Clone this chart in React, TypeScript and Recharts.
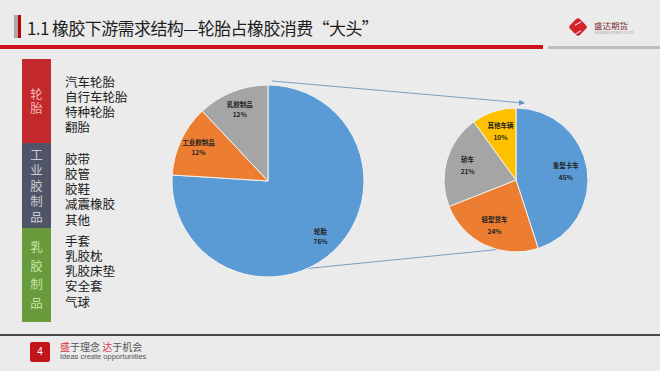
import { Cell, Pie, PieChart } from "recharts"

const segments = ["轮胎", "工业胶制品", "乳胶制品"]
const segmentShares = [76, 12, 12]
const vehicleTypes = ["重型卡车", "轻型货车", "轿车", "其他车辆"]
const vehicleShares = [45, 24, 21, 10]

const tyreProducts = ["汽车轮胎", "自行车轮胎", "特种轮胎", "翻胎"]
const industrialProducts = ["胶带", "胶管", "胶鞋", "减震橡胶", "其他"]
const latexProducts = ["手套", "乳胶枕", "乳胶床垫", "安全套", "气球"]

const segmentColors = ["#5b9bd5", "#ed7d31", "#a5a5a5"]
const vehicleColors = ["#5b9bd5", "#ed7d31", "#a5a5a5", "#ffc000"]

const segmentData = segments.map((name, i) => ({ name, value: segmentShares[i] }))
const vehicleData = vehicleTypes.map((name, i) => ({ name, value: vehicleShares[i] }))

const FONT = '"Noto Sans CJK SC", "Noto Sans", sans-serif'
const RAD = Math.PI / 180

function makeLabel(ratio: number, gap: number, size: number) {
  return (props: any) => {
    const { cx, cy, midAngle, outerRadius, name, value } = props
    const r = outerRadius * ratio
    const x = cx + r * Math.cos(-midAngle * RAD)
    const y = cy + r * Math.sin(-midAngle * RAD)
    return (
      <text
        x={x}
        y={y}
        textAnchor="middle"
        fontSize={size}
        fontWeight="bold"
        fill="#222"
        fontFamily={FONT}
      >
        <tspan x={x} dy={-gap / 2 + 2}>{name}</tspan>
        <tspan x={x} dy={gap}>{value}%</tspan>
      </text>
    )
  }
}

const sideGroups = [
  { title: "轮胎", items: tyreProducts, top: 59, bottom: 143, color: "#c3282b", text: "#f3b9b6", step: 14, firstItem: 81 },
  { title: "工业胶制品", items: industrialProducts, top: 143, bottom: 228, color: "#4f5566", text: "#c9ccd4", step: 15, firstItem: 158 },
  { title: "乳胶制品", items: latexProducts, top: 228, bottom: 322, color: "#699a3c", text: "#c5e6a8", step: 18, firstItem: 240 }
]

export default function App() {
  return (
    <div
      style={{
        position: "absolute",
        left: 0,
        top: 0,
        width: 660,
        height: 371,
        background: "#ebebeb",
        fontFamily: FONT,
        overflow: "hidden"
      }}
    >
      {/* header */}
      <div style={{ position: "absolute", left: 14, top: 15, width: 4, height: 23, background: "#a9a9a9" }} />
      <div style={{ position: "absolute", left: 18, top: 15, width: 3, height: 23, background: "#c00000" }} />
      <div
        style={{
          position: "absolute",
          left: 27,
          top: 17,
          fontSize: 17,
          letterSpacing: -0.6,
          color: "#1e1e1e",
          lineHeight: "22px",
          whiteSpace: "nowrap"
        }}
      >
        1.1 橡胶下游需求结构—轮胎占橡胶消费“大头”
      </div>
      <div style={{ position: "absolute", left: 0, top: 45, width: 543, height: 4, background: "#d0101b" }} />
      <div style={{ position: "absolute", left: 548, top: 46, width: 112, height: 3, background: "#bdbdbd" }} />
      <div
        style={{
          position: "absolute",
          left: 571,
          top: 20,
          width: 14,
          height: 14,
          background: "#d3242b",
          transform: "rotate(45deg)",
          borderRadius: 3
        }}
      />
      <div
        style={{
          position: "absolute",
          left: 575,
          top: 23,
          width: 6,
          height: 8,
          border: "1.5px solid #fff",
          borderLeft: "none",
          borderRight: "none",
          transform: "skewY(-30deg)"
        }}
      />
      <div style={{ position: "absolute", left: 594, top: 20, fontSize: 8.5, lineHeight: "11px", color: "#7a2a2a", whiteSpace: "nowrap" }}>
        盛达期货
      </div>
      <div style={{ position: "absolute", left: 594, top: 31, fontSize: 3, color: "#999", whiteSpace: "nowrap" }}>
        SHENGDA FUTURES CO.,LTD.
      </div>

      {/* left panel */}
      {sideGroups.map((g) => (
        <div key={g.title}>
          <div
            style={{
              position: "absolute",
              left: 22,
              top: g.top,
              width: 29,
              height: g.bottom - g.top,
              background: g.color,
              display: "flex",
              flexDirection: "column",
              alignItems: "center",
              justifyContent: "center"
            }}
          >
            {g.title.split("").map((c, i) => (
              <div key={i} style={{ fontSize: 12.5, height: g.step + 0.5, lineHeight: `${g.step + 0.5}px`, color: g.text }}>
                {c}
              </div>
            ))}
          </div>
          {g.items.map((item, i) => (
            <div
              key={item}
              style={{
                position: "absolute",
                left: 65,
                top: g.firstItem + i * 15.3 - 7.5,
                fontSize: 12.5,
                height: 15,
                lineHeight: "15px",
                color: "#222",
                whiteSpace: "nowrap"
              }}
            >
              {item}
            </div>
          ))}
        </div>
      ))}

      {/* connectors */}
      <svg style={{ position: "absolute", left: 0, top: 0 }} width={660} height={371}>
        <defs>
          <marker id="arr" markerWidth="6" markerHeight="6" refX="5" refY="3" orient="auto">
            <path d="M0,0 L6,3 L0,6 z" fill="#6f95bd" />
          </marker>
        </defs>
        <line x1={272} y1={81} x2={524} y2={103} stroke="#7a9cc2" strokeWidth={1} markerEnd="url(#arr)" />
        <line x1={272} y1={272} x2={533} y2={246} stroke="#7a9cc2" strokeWidth={1} markerEnd="url(#arr)" />
      </svg>

      {/* pies */}
      <div style={{ position: "absolute", left: 0, top: 0 }}>
        <PieChart width={660} height={371}>
          <Pie
            data={segmentData}
            dataKey="value"
            nameKey="name"
            cx={263}
            cy={176}
            outerRadius={96}
            startAngle={90}
            endAngle={-270}
            stroke="#f2f2f2"
            strokeWidth={1}
            labelLine={false}
            label={makeLabel(0.8, 10, 6.5)}
            isAnimationActive={false}
          >
            {segmentData.map((d, i) => (
              <Cell key={d.name} fill={segmentColors[i]} />
            ))}
          </Pie>
          <Pie
            data={vehicleData}
            dataKey="value"
            nameKey="name"
            cx={511}
            cy={175}
            outerRadius={72}
            startAngle={90}
            endAngle={-270}
            stroke="#f2f2f2"
            strokeWidth={1}
            labelLine={false}
            label={makeLabel(0.7, 12, 6.5)}
            isAnimationActive={false}
          >
            {vehicleData.map((d, i) => (
              <Cell key={d.name} fill={vehicleColors[i]} />
            ))}
          </Pie>
        </PieChart>
      </div>

      {/* footer */}
      <div style={{ position: "absolute", left: 0, top: 334, width: 660, height: 2, background: "#4a4a4a" }} />
      <div
        style={{
          position: "absolute",
          left: 30,
          top: 342,
          width: 20,
          height: 20,
          background: "#c0161c",
          borderRadius: 2,
          color: "#fff",
          fontSize: 10,
          lineHeight: "20px",
          textAlign: "center",
          fontFamily: "Arial, sans-serif"
        }}
      >
        4
      </div>
      <div style={{ position: "absolute", left: 60, top: 340, fontSize: 10, lineHeight: "13px", color: "#555", whiteSpace: "nowrap" }}>
        <span style={{ color: "#d9363e" }}>盛</span>于理念 <span style={{ color: "#d9363e" }}>达</span>于机会
      </div>
      <div
        style={{
          position: "absolute",
          left: 60,
          top: 352,
          fontSize: 7.5,
          lineHeight: "10px",
          color: "#555",
          whiteSpace: "nowrap",
          fontFamily: "Arial, sans-serif"
        }}
      >
        Ideas create opportunities
      </div>
    </div>
  )
}
